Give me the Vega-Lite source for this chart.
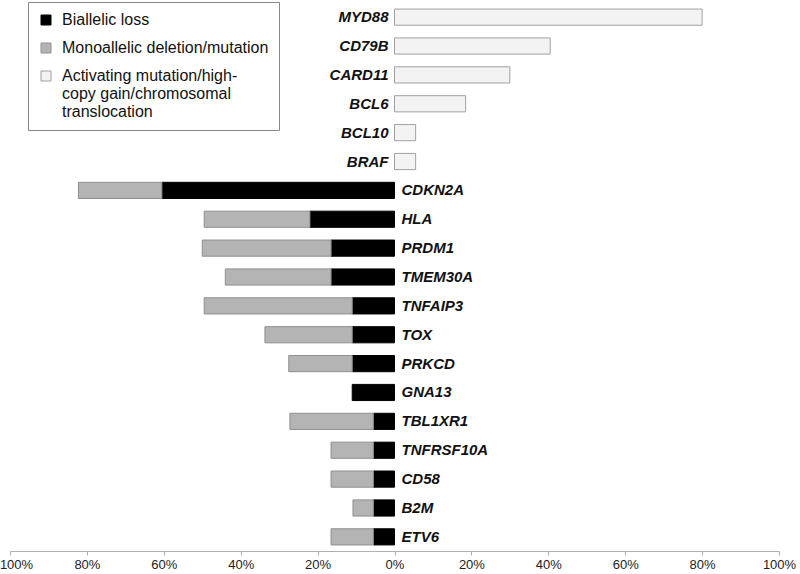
{
  "$schema": "https://vega.github.io/schema/vega-lite/v6.json",
  "width": 769,
  "height": 548,
  "autosize": {"type": "none"},
  "padding": {"left": 10, "top": 3, "right": 21, "bottom": 23},
  "background": "white",
  "config": {"view": {"stroke": null}, "font": "Liberation Sans"},
  "data": {
    "values": [
      {"gene": "MYD88", "type": "Activating mutation/high-copy gain/chromosomal translocation", "value": 80},
      {"gene": "CD79B", "type": "Activating mutation/high-copy gain/chromosomal translocation", "value": 40.5},
      {"gene": "CARD11", "type": "Activating mutation/high-copy gain/chromosomal translocation", "value": 30},
      {"gene": "BCL6", "type": "Activating mutation/high-copy gain/chromosomal translocation", "value": 18.5},
      {"gene": "BCL10", "type": "Activating mutation/high-copy gain/chromosomal translocation", "value": 5.5},
      {"gene": "BRAF", "type": "Activating mutation/high-copy gain/chromosomal translocation", "value": 5.5},
      {"gene": "CDKN2A", "type": "Biallelic loss", "value": -60.5},
      {"gene": "CDKN2A", "type": "Monoallelic deletion/mutation", "value": -21.7},
      {"gene": "HLA", "type": "Biallelic loss", "value": -22},
      {"gene": "HLA", "type": "Monoallelic deletion/mutation", "value": -27.5},
      {"gene": "PRDM1", "type": "Biallelic loss", "value": -16.5},
      {"gene": "PRDM1", "type": "Monoallelic deletion/mutation", "value": -33.5},
      {"gene": "TMEM30A", "type": "Biallelic loss", "value": -16.5},
      {"gene": "TMEM30A", "type": "Monoallelic deletion/mutation", "value": -27.5},
      {"gene": "TNFAIP3", "type": "Biallelic loss", "value": -11},
      {"gene": "TNFAIP3", "type": "Monoallelic deletion/mutation", "value": -38.5},
      {"gene": "TOX", "type": "Biallelic loss", "value": -11},
      {"gene": "TOX", "type": "Monoallelic deletion/mutation", "value": -22.7},
      {"gene": "PRKCD", "type": "Biallelic loss", "value": -11},
      {"gene": "PRKCD", "type": "Monoallelic deletion/mutation", "value": -16.5},
      {"gene": "GNA13", "type": "Biallelic loss", "value": -11},
      {"gene": "TBL1XR1", "type": "Biallelic loss", "value": -5.5},
      {"gene": "TBL1XR1", "type": "Monoallelic deletion/mutation", "value": -21.7},
      {"gene": "TNFRSF10A", "type": "Biallelic loss", "value": -5.5},
      {"gene": "TNFRSF10A", "type": "Monoallelic deletion/mutation", "value": -11},
      {"gene": "CD58", "type": "Biallelic loss", "value": -5.5},
      {"gene": "CD58", "type": "Monoallelic deletion/mutation", "value": -11},
      {"gene": "B2M", "type": "Biallelic loss", "value": -5.5},
      {"gene": "B2M", "type": "Monoallelic deletion/mutation", "value": -5.3},
      {"gene": "ETV6", "type": "Biallelic loss", "value": -5.5},
      {"gene": "ETV6", "type": "Monoallelic deletion/mutation", "value": -11}
    ]
  },
  "encoding": {
    "y": {
      "field": "gene",
      "type": "nominal",
      "sort": ["MYD88", "CD79B", "CARD11", "BCL6", "BCL10", "BRAF", "CDKN2A", "HLA", "PRDM1", "TMEM30A", "TNFAIP3", "TOX", "PRKCD", "GNA13", "TBL1XR1", "TNFRSF10A", "CD58", "B2M", "ETV6"],
      "scale": {"paddingInner": 0.44, "paddingOuter": 0.21},
      "axis": null
    }
  },
  "layer": [
    {
      "mark": {"type": "bar", "strokeWidth": 1},
      "encoding": {
        "x": {
          "field": "value",
          "type": "quantitative",
          "stack": "zero",
          "scale": {"domain": [-100, 100], "nice": false, "zero": false},
          "axis": {
            "title": null,
            "values": [-100, -80, -60, -40, -20, 0, 20, 40, 60, 80, 100],
            "labelExpr": "abs(datum.value) + '%'",
            "grid": false,
            "domainColor": "#b0b0b0",
            "tickColor": "#b0b0b0",
            "tickSize": 4,
            "labelFontSize": 13,
            "labelColor": "#222222",
            "labelPadding": 3,
            "labelFlush": false,
            "labelOverlap": false,
            "labelBound": false,
            "labelOffset": {"condition": {"test": "datum.value == -100", "value": 6}, "value": 0}
          }
        },
        "order": {"field": "type", "sort": "ascending"},
        "color": {
          "field": "type",
          "type": "nominal",
          "scale": {
            "domain": ["Biallelic loss", "Monoallelic deletion/mutation", "Activating mutation/high-copy gain/chromosomal translocation"],
            "range": ["#000000", "#b4b4b4", "#f3f3f3"]
          },
          "legend": {
            "title": null,
            "orient": "none",
            "legendX": 18,
            "legendY": -1,
            "strokeColor": "#888888",
            "fillColor": "#ffffff",
            "padding": 10,
            "symbolType": "square",
            "symbolSize": 100,
            "symbolStrokeColor": "#9a9a9a",
            "symbolStrokeWidth": 1,
            "labelFontSize": 16,
            "labelFont": "Liberation Sans",
            "labelColor": "#111111",
            "labelLimit": 400,
            "labelOffset": 8,
            "rowPadding": 12,
            "labelExpr": "datum.label == 'Activating mutation/high-copy gain/chromosomal translocation' ? ['Activating mutation/high-', 'copy gain/chromosomal', 'translocation'] : datum.label"
          }
        },
        "stroke": {
          "field": "type",
          "type": "nominal",
          "scale": {
            "domain": ["Biallelic loss", "Monoallelic deletion/mutation", "Activating mutation/high-copy gain/chromosomal translocation"],
            "range": ["#000000", "#8f8f8f", "#a0a0a0"]
          },
          "legend": null
        }
      }
    },
    {
      "transform": [{"filter": "datum.value > 0"}],
      "mark": {"type": "text", "align": "right", "baseline": "middle", "dx": -6, "fontSize": 15, "fontWeight": "bold", "fontStyle": "italic", "font": "Liberation Sans", "color": "#111111"},
      "encoding": {
        "x": {"datum": 0, "type": "quantitative"},
        "text": {"field": "gene"}
      }
    },
    {
      "transform": [{"filter": "datum.type == 'Biallelic loss'"}],
      "mark": {"type": "text", "align": "left", "baseline": "middle", "dx": 7, "fontSize": 15, "fontWeight": "bold", "fontStyle": "italic", "font": "Liberation Sans", "color": "#111111"},
      "encoding": {
        "x": {"datum": 0, "type": "quantitative"},
        "text": {"field": "gene"}
      }
    }
  ]
}
